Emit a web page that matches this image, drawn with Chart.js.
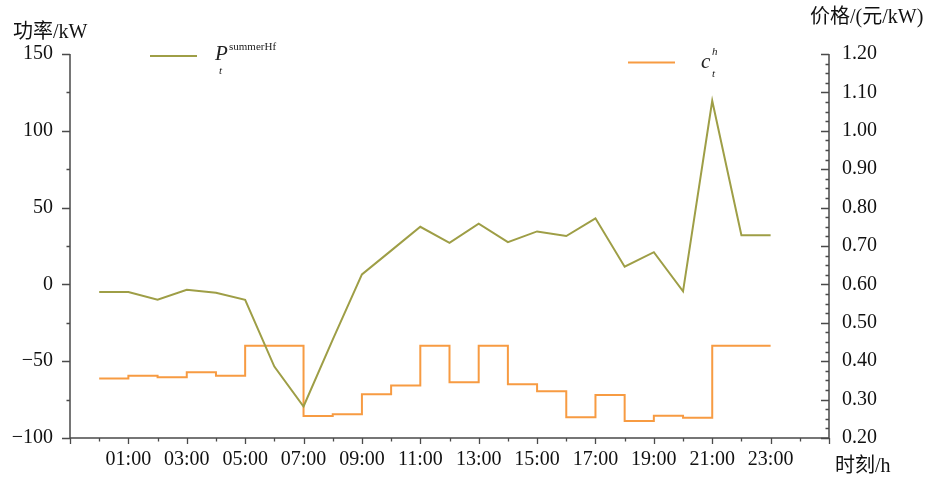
<!DOCTYPE html>
<html>
<head>
<meta charset="utf-8">
<script src="https://cdn.jsdelivr.net/npm/chart.js@4/dist/chart.umd.min.js"></script>
<style>
  html, body { margin: 0; padding: 0; background: #ffffff; }
  #wrap { width: 935px; height: 478px; position: relative; }
</style>
</head>
<body>
<div id="wrap"><canvas id="c" width="935" height="478"></canvas></div>
<script>
// Hour of day for each sample
const hours = [0, 1, 2, 3, 4, 5, 6, 7, 8, 9, 10, 11, 12, 13, 14, 15, 16, 17, 18, 19, 20, 21, 22, 23];
// Summer high-frequency power, kW
const powerKW = [-5, -5, -10, -3.5, -5.5, -10, -53.5, -79.5, -36, 6.5, 22, 37.5, 27, 39.5, 27.5, 34.5, 31.5, 43, 11.5, 21, -4.5, 119.5, 32, 32];
// Hourly price, yuan/kW (each value holds until the next hour)
const price = [0.355, 0.362, 0.358, 0.371, 0.362, 0.44, 0.44, 0.257, 0.262, 0.314, 0.337, 0.44, 0.345, 0.44, 0.34, 0.322, 0.254, 0.312, 0.244, 0.258, 0.253, 0.44, 0.44, 0.44];

// Axis ranges and tick spacing
const xRange = [-1, 25];
const powerRange = [-100, 150];
const priceRange = [0.2, 1.2];
const powerMajor = 50, powerMinor = 25;
const priceMajor = 0.1, priceMinor = 0.025;

const SERIF = '"Liberation Serif", "Times New Roman", "Noto Sans CJK SC", serif';
const MIXED = '"Liberation Serif", "Noto Sans CJK SC", serif';
const OLIVE = '#9e9e46';
const ORANGE = '#f79b42';
const AXIS = '#4a4a4a';

function pad2(n) { return (n < 10 ? '0' : '') + n; }

// Axis lines, major/minor tick marks, axis titles and legend
const decorations = {
  id: 'decorations',
  afterDraw(chart) {
    const ctx = chart.ctx;
    const a = chart.chartArea;
    const xs = chart.scales.x, yl = chart.scales.y, yr = chart.scales.y1;
    ctx.save();
    ctx.strokeStyle = AXIS;
    ctx.lineWidth = 1.5;
    ctx.lineCap = 'butt';

    // axis lines
    ctx.beginPath();
    ctx.moveTo(a.left, a.top); ctx.lineTo(a.left, a.bottom);
    ctx.moveTo(a.left, a.bottom); ctx.lineTo(a.right, a.bottom);
    ctx.moveTo(a.right, a.top); ctx.lineTo(a.right, a.bottom);
    ctx.stroke();

    ctx.lineWidth = 1.3;
    ctx.beginPath();
    // left axis ticks (outward)
    for (let v = powerRange[0]; v <= powerRange[1] + 1e-9; v += powerMinor) {
      const y = Math.round(yl.getPixelForValue(v)) + 0.5;
      const len = (Math.abs(v % powerMajor) < 1e-9) ? 8 : 3.5;
      ctx.moveTo(a.left, y); ctx.lineTo(a.left - len, y);
    }
    // right axis ticks (inward)
    const nR = Math.round((priceRange[1] - priceRange[0]) / priceMinor);
    for (let i = 0; i <= nR; i++) {
      const v = priceRange[0] + i * priceMinor;
      const y = Math.round(yr.getPixelForValue(v)) + 0.5;
      const len = (i % 4 === 0) ? 8 : 3.5;
      ctx.moveTo(a.right, y); ctx.lineTo(a.right - len, y);
    }
    // bottom axis ticks (downward), long on odd hours
    for (let h = xRange[0]; h <= xRange[1]; h++) {
      const x = Math.round(xs.getPixelForValue(h)) + 0.5;
      const len = (Math.abs(h) % 2 === 1) ? 6 : 3.5;
      ctx.moveTo(x, a.bottom); ctx.lineTo(x, a.bottom + len);
    }
    ctx.stroke();

    // axis titles
    ctx.fillStyle = '#111';
    ctx.textBaseline = 'middle';
    ctx.textAlign = 'left';
    ctx.font = '20px ' + MIXED;
    ctx.fillText('功率/kW', 13, 33);
    ctx.fillText('价格/(元/kW)', 810, 18);
    ctx.fillText('时刻/h', 835, 467);

    // legend
    ctx.lineWidth = 2;
    ctx.strokeStyle = OLIVE;
    ctx.beginPath(); ctx.moveTo(150, 56); ctx.lineTo(197, 56); ctx.stroke();
    ctx.strokeStyle = ORANGE;
    ctx.beginPath(); ctx.moveTo(628, 62.5); ctx.lineTo(675, 62.5); ctx.stroke();

    ctx.textBaseline = 'alphabetic';
    ctx.fillStyle = '#222';
    ctx.font = 'italic 21px ' + SERIF;
    ctx.fillText('P', 215, 60);
    ctx.font = 'italic 11px ' + SERIF;
    ctx.fillText('t', 219, 74);
    ctx.font = '11px ' + SERIF;
    ctx.fillText('summerHf', 229, 50);

    ctx.font = 'italic 21px ' + SERIF;
    ctx.fillText('c', 701, 68);
    ctx.font = 'italic 11px ' + SERIF;
    ctx.fillText('h', 712, 55);
    ctx.fillText('t', 712, 77);
    ctx.restore();
  }
};

new Chart(document.getElementById('c'), {
  type: 'line',
  data: {
    datasets: [
      {
        label: 'P',
        data: hours.map((h, i) => ({ x: h, y: powerKW[i] })),
        yAxisID: 'y',
        borderColor: OLIVE,
        borderWidth: 2,
        pointRadius: 0,
        tension: 0,
        fill: false
      },
      {
        label: 'c',
        data: hours.map((h, i) => ({ x: h, y: price[i] })),
        yAxisID: 'y1',
        borderColor: ORANGE,
        borderWidth: 2,
        pointRadius: 0,
        stepped: 'before',
        fill: false
      }
    ]
  },
  options: {
    responsive: false,
    animation: false,
    events: [],
    layout: { padding: { top: 54, left: 0, right: 0, bottom: 0 } },
    plugins: { legend: { display: false }, tooltip: { enabled: false } },
    scales: {
      x: {
        type: 'linear',
        min: xRange[0], max: xRange[1],
        grid: { display: false, drawTicks: false },
        border: { display: false },
        afterFit(s) { s.height = 40; },
        afterBuildTicks(s) {
          const t = [];
          for (let h = xRange[0]; h <= xRange[1]; h += 2) t.push({ value: h });
          s.ticks = t;
        },
        ticks: {
          autoSkip: false, maxRotation: 0, padding: 10,
          color: '#111',
          font: { family: SERIF, size: 20 },
          callback: v => (v >= 1 && v <= 23) ? pad2(v) + ':00' : ''
        }
      },
      y: {
        position: 'left',
        min: powerRange[0], max: powerRange[1],
        grid: { display: false, drawTicks: false },
        border: { display: false },
        afterFit(s) { s.width = 70; },
        ticks: {
          stepSize: powerMajor, padding: 17,
          color: '#111',
          font: { family: SERIF, size: 20 },
          callback: v => v < 0 ? '\u2212' + Math.abs(v) : String(v)
        }
      },
      y1: {
        position: 'right',
        min: priceRange[0], max: priceRange[1],
        grid: { display: false, drawTicks: false },
        border: { display: false },
        afterFit(s) { s.width = 106; },
        ticks: {
          stepSize: priceMajor, padding: 13,
          color: '#111',
          font: { family: SERIF, size: 20 },
          callback: v => Number(v).toFixed(2)
        }
      }
    }
  },
  plugins: [decorations]
});
</script>
</body>
</html>
